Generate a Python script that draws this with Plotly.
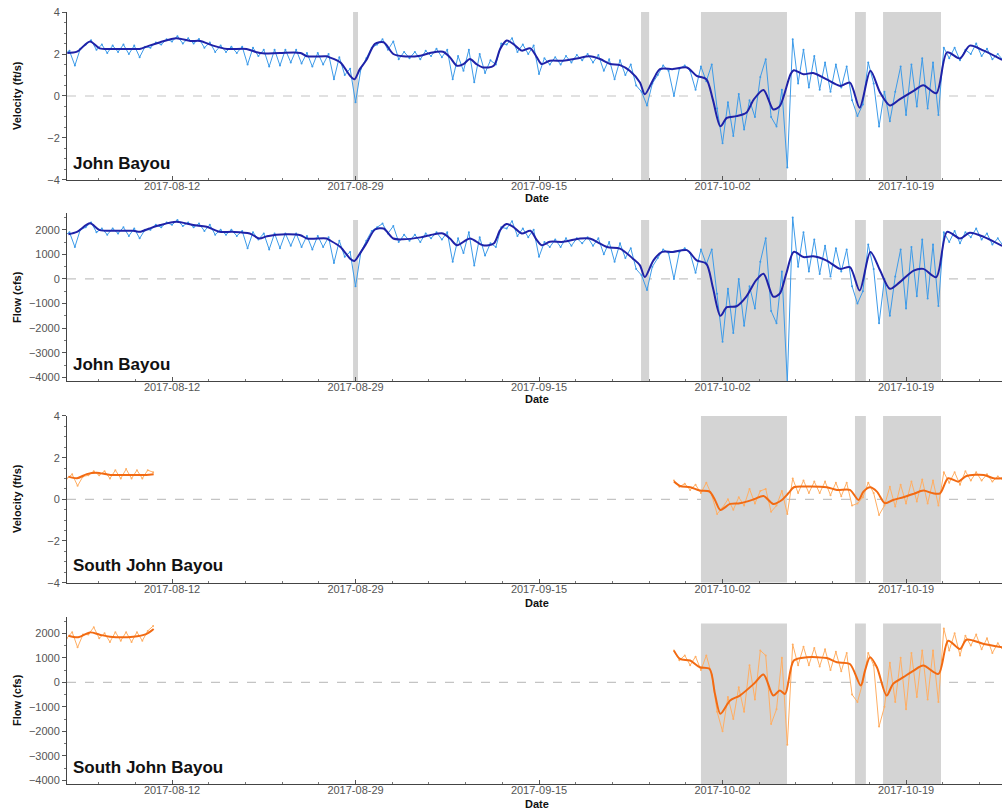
import pandas as pd
import plotly.graph_objects as go
from plotly.subplots import make_subplots

BASE = pd.Timestamp("2017-08-02 00:00")

# ---------------- John Bayou : raw (12-hourly, starting at BASE) ----------------
jb_vel_raw = [
    2.0, 2.15, 1.45, 2.25, 2.45, 2.65, 2.2, 2.45, 2.05, 2.4,
    2.1, 2.45, 2.0, 2.4, 1.85, 2.35, 2.3, 2.55, 2.45, 2.7,
    2.6, 2.85, 2.5, 2.75, 2.5, 2.72, 2.3, 2.55, 2.1, 2.4,
    2.1, 2.35, 2.05, 2.35, 1.5, 2.3, 1.9, 2.2, 1.4, 2.2,
    1.45, 2.2, 1.6, 2.2, 1.55, 2.05, 1.4, 2.05, 1.5, 2.0,
    0.8, 1.85, 1.0, 1.3, -0.3, 1.3, 1.8, 2.3, 2.45, 2.7,
    2.2, 2.6, 1.75, 2.1, 1.8, 2.1, 1.75, 2.15, 1.9, 2.25,
    1.85, 2.2, 0.8, 1.9, 1.2, 2.2, 0.65, 2.0, 1.1, 1.7,
    1.5, 2.5, 2.45, 2.75, 2.1, 2.45, 2.0, 2.4, 1.05, 1.8,
    1.5, 1.85, 1.5, 1.9, 1.6, 1.95, 1.7, 2.0, 1.6, 1.95,
    1.2, 1.75, 0.8, 1.7, 1.0, 1.5, 0.5, 0.2, -0.45, 0.6,
    1.0, 1.45, 1.2, 0.0, 1.3, 1.45, 1.2, 0.3, 1.4, 0.7,
    1.5, -0.6, -2.25, -0.3, -1.9, 0.1, -1.6, -0.2, -1.0, 0.9,
    1.75, -1.0, -1.45, 0.3, -3.4, 2.7, 0.6, 2.2, 0.4, 1.9,
    0.3, 1.6, 0.2, 1.5, 0.4, 1.4, -0.2, -0.95, -0.4, 1.6,
    0.6, -1.45, 0.2, -1.2, 0.2, 1.4, -0.9, 1.5, -0.5, 1.8,
    -0.6, 1.6, -0.9, 2.3, 1.8, 2.3, 1.7, 2.2, 2.0, 2.5,
    1.9, 2.25, 1.75, 2.0, 1.7,
]

jb_flow_raw = [
    1750, 1900, 1300, 2000, 2100, 2300, 1900, 2050, 1800, 2050,
    1850, 2100, 1750, 2050, 1650, 2000, 2000, 2200, 2100, 2300,
    2200, 2400, 2150, 2300, 2100, 2250, 1950, 2200, 1800, 2000,
    1800, 2000, 1750, 1950, 1250, 1900, 1600, 1850, 1200, 1850,
    1250, 1850, 1350, 1850, 1300, 1750, 1200, 1750, 1300, 1700,
    650, 1550, 900, 1100, -300, 1100, 1550, 1950, 2100, 2250,
    1850, 2150, 1500, 1800, 1550, 1800, 1500, 1850, 1650, 1900,
    1600, 1900, 700, 1650, 1050, 1900, 550, 1700, 950, 1450,
    1300, 2100, 2050, 2350, 1750, 2050, 1700, 2000, 900, 1500,
    1300, 1600, 1300, 1650, 1350, 1650, 1450, 1700, 1350, 1650,
    1000, 1500, 700, 1450, 850, 1250, 400, 150, -450, 500,
    850, 1200, 1050, 0, 1100, 1250, 1050, 250, 1200, 600,
    1200, -600, -2550, -400, -2200, 0, -1900, -300, -1200, 700,
    1650, -1300, -1800, 300, -4200, 2500, 500, 1900, 300, 1600,
    200, 1350, 100, 1250, 300, 1200, -300, -1000, -500, 1400,
    400, -1800, 0, -1500, 100, 1200, -1200, 1300, -700, 1600,
    -800, 1400, -1100, 1900, 1500, 1950, 1450, 1900, 1700, 2050,
    1600, 1850, 1400, 1650, 1350,
]

# ---------------- John Bayou : smoothed (day offset from BASE, value) ----------------
jb_vel_sm_days = [0.3, 1.2, 2.4, 3.3, 4.5, 6.4, 7.0, 7.9, 8.9, 10.4, 11.7, 12.6, 13.8, 15.1,
                  16.9, 17.85, 18.4, 20.0, 21.9, 22.5, 24.3, 24.6, 25.6, 26.5, 26.9, 27.4,
                  28.0, 28.8, 29.6, 30.5, 31.4, 33.0, 33.9, 35.1, 35.75, 36.4, 37.0, 37.6,
                  38.2, 38.8, 39.8, 40.4, 41.0, 41.6, 42.4, 43.2, 43.8, 44.25, 45.0, 46.25,
                  47.5, 48.7, 49.65, 50.6, 51.5, 52.4, 53.35, 53.8, 54.6, 55.2, 56.4, 57.7,
                  58.6, 59.5, 60.1, 60.8, 61.4, 62.3, 63.2, 63.9, 64.8, 65.7, 66.3, 67.3,
                  67.6, 68.5, 69.4, 70.6, 71.9, 72.8, 73.7, 74.7, 75.6, 76.5, 77.4, 78.7,
                  79.6, 80.8, 81.8, 83.0, 83.9, 85.2, 86.9]
jb_vel_sm = [2.05, 2.11, 2.6, 2.27, 2.24, 2.24, 2.24, 2.4, 2.56, 2.75, 2.62, 2.62, 2.4, 2.24,
             2.24, 2.08, 2.03, 2.05, 2.05, 1.89, 1.89, 1.84, 1.6, 0.96, 0.8, 1.28,
             1.71, 2.48, 2.56, 2.0, 1.89, 1.92, 2.05, 2.11, 1.84, 1.44, 1.52, 1.76,
             1.52, 1.36, 1.44, 2.24, 2.64, 2.48, 2.16, 2.27, 1.84, 1.52, 1.68, 1.68,
             1.79, 1.89, 1.76, 1.52, 1.47, 1.2, 0.64, 0.08, 0.8, 1.28, 1.28, 1.36,
             0.96, 0.8, -0.16, -1.44, -1.04, -0.96, -0.8, -0.16, 0.29, -0.64, -0.48, 1.04,
             1.23, 1.04, 1.09, 0.8, 0.48, 0.64, -0.56, 1.2, 0.16, -0.45, -0.16, 0.24,
             0.51, 0.13, 2.08, 1.79, 2.4, 2.16, 1.72]

jb_flow_sm_days = [0.4, 1.2, 2.4, 3.3, 5.0, 6.4, 7.0, 7.9, 8.9, 10.4, 11.96, 13.2, 14.4, 15.6,
                   17.2, 18.1, 18.8, 20.6, 21.9, 22.5, 24.3, 24.6, 25.6, 26.5, 26.9, 27.4,
                   28.0, 28.8, 29.6, 30.5, 31.4, 33.0, 33.9, 35.1, 35.75, 36.4, 37.6, 38.8,
                   39.8, 40.4, 41.0, 41.6, 42.4, 43.2, 43.8, 44.25, 45.0, 46.25, 47.8, 48.7,
                   50.3, 51.5, 52.7, 53.35, 53.8, 54.6, 55.4, 56.4, 57.7, 58.6, 59.5, 60.1,
                   60.8, 61.4, 62.3, 63.2, 64.1, 64.8, 65.7, 66.3, 66.9, 67.6, 68.5, 69.4,
                   70.6, 71.9, 72.8, 73.7, 74.7, 75.6, 76.5, 77.4, 78.7, 79.6, 80.8, 81.8,
                   83.0, 83.9, 85.2, 86.9]
jb_flow_sm = [1820, 1915, 2260, 1985, 1960, 1960, 1915, 2050, 2190, 2325, 2190, 2120, 1915, 1915,
              1850, 1645, 1740, 1820, 1780, 1645, 1645, 1575, 1300, 825, 730, 1030,
              1440, 2010, 2050, 1645, 1610, 1690, 1780, 1850, 1645, 1370, 1645, 1370,
              1440, 1985, 2230, 2120, 1850, 1960, 1575, 1370, 1510, 1510, 1645, 1645,
              1300, 1235, 825, 550, 75, 758, 1100, 1100, 1170, 758, 620, -335,
              -1495, -1150, -1110, -720, -60, 210, -720, -600, 210, 1100, 890, 920,
              758, 410, 480, -470, 1100, 340, -400, -140, 340, 410, 75, 1915,
              1645, 1875, 1710, 1340]

# ---------------- South John Bayou : raw (two segments, 12-hourly) ----------------
sjb_early_start = 0.25      # day offset of first early sample
sjb_late_start = 56.5       # day offset of first late sample

sjb_vel_raw_early = [1.0, 1.2, 0.65, 1.1, 1.15, 1.35, 1.15, 1.35, 1.0, 1.4,
                     1.0, 1.45, 1.0, 1.4, 1.0, 1.4, 1.3]
sjb_vel_raw_late = [0.9,
                    0.6, 0.75, 0.45, 0.7, 0.3, 0.8, 0.2, -0.7, -0.4, 0.0,
                    -0.5, 0.1, -0.3, 0.5, -0.2, 0.4, 0.5, -0.6, -0.3, 0.4,
                    -0.7, 1.0, 0.3, 0.9, 0.3, 0.85, 0.3, 0.85, 0.2, 0.8,
                    0.15, 0.8, -0.3, -0.2, 0.1, 0.8, 0.3, -0.75, -0.3, 0.6,
                    -0.35, 0.7, -0.2, 0.85, -0.1, 0.95, -0.2, 0.9, -0.3, 1.3,
                    0.8, 1.3, 0.7, 1.35, 0.9, 1.3, 0.9, 1.2, 0.85, 1.1, 0.9]

sjb_flow_raw_early = [1800, 2050, 1430, 1950, 1950, 2250, 1800, 2000, 1650, 2050,
                      1700, 2050, 1650, 2050, 1700, 2100, 2300]
sjb_flow_raw_late = [1300,
                     900, 1100, 700, 1050, 500, 1100, 300, -1200, -2000, -600,
                     -1500, -200, -1200, 700, -700, 1300, 1100, -1700, -1100, 1000,
                     -2550, 1550, 700, 1450, 700, 1400, 650, 1350, 500, 1250,
                     450, 1200, -500, -800, 0, 1200, 700, -1800, -1000, 800,
                     -800, 1000, -1100, 1200, -600, 1300, -700, 1300, -800, 2200,
                     1300, 2000, 1100, 1900, 1500, 1950, 1350, 1800, 1200, 1600, 1300]

# ---------------- South John Bayou : smoothed ----------------
sjb_vel_sm_days_early = [0.4, 1.2, 2.1, 3.0, 4.3, 6.4, 7.6, 8.3]
sjb_vel_sm_early = [1.09, 1.01, 1.21, 1.28, 1.17, 1.17, 1.17, 1.2]
sjb_vel_sm_days_late = [56.5, 57.06, 58.0, 58.9, 59.8, 60.3, 60.8, 61.7, 62.6, 63.9, 64.8, 65.7,
                        66.5, 67.1, 67.6, 68.8, 70.65, 71.6, 72.8, 73.6, 74.05, 74.67, 75.3,
                        76.05, 76.8, 77.75, 78.7, 79.6, 80.5, 81.15, 81.9, 82.85, 83.6, 85.2,
                        86.1, 86.9]
sjb_vel_sm_late = [0.85, 0.64, 0.58, 0.42, 0.37, -0.03, -0.51, -0.22, -0.19, 0.0, 0.16, -0.22,
                   -0.03, 0.29, 0.58, 0.61, 0.58, 0.45, 0.45, -0.03, 0.37, 0.58, 0.37,
                   -0.19, -0.03, 0.1, 0.26, 0.42, 0.29, 0.29, 1.01, 0.85, 1.12, 1.17,
                   1.01, 1.01]

sjb_flow_sm_days_early = [0.4, 1.3, 2.4, 3.3, 4.25, 6.4, 7.6, 8.3]
sjb_flow_sm_early = [1905, 1840, 2040, 1945, 1865, 1865, 1970, 2180]
sjb_flow_sm_days_late = [56.5, 57.06, 58.0, 58.9, 59.8, 60.3, 60.8, 61.7, 62.6, 63.9, 64.8, 65.7,
                         66.3, 66.8, 67.6, 68.8, 70.65, 71.6, 72.8, 73.8, 74.2, 74.67, 75.3,
                         76.2, 76.8, 77.75, 78.7, 79.6, 81.0, 81.9, 83.0, 83.6, 85.2, 86.9]
sjb_flow_sm_late = [1295, 955, 890, 615, 550, -470, -1285, -740, -540, -60, 320, -540,
                    -335, -470, 890, 1025, 990, 820, 750, -130, 480, 1025, 615,
                    -540, -60, 210, 480, 685, 345, 1700, 1365, 1740, 1570, 1430]

# ---------------- shaded periods (day offsets) ----------------
jb_shade_start = [26.77, 53.45, 59.0, 73.27, 75.87]
jb_shade_end = [27.23, 54.2, 66.97, 74.28, 81.24]
sjb_shade_start = [59.0, 73.27, 75.87]
sjb_shade_end = [66.97, 74.28, 81.24]

x_range_days = [0.27, 86.89]
tick_labels_start = "2017-08-12"


def to_dt(days):
    return [BASE + pd.Timedelta(days=d) for d in days]


def raw_times(start, n):
    return [BASE + pd.Timedelta(days=start + 0.5 * i) for i in range(n)]


RAW_BLUE = "#3d9be9"
SM_BLUE = "#1f22a8"
RAW_ORANGE = "#ffae63"
SM_ORANGE = "#f26a12"
FONT = "Liberation Sans, Arial, sans-serif"

fig = make_subplots(rows=4, cols=1, shared_xaxes=False, vertical_spacing=0.0)

domains = [(0.7824, 1.0), (0.522, 0.7396), (0.2608, 0.4767), (0.0, 0.2167)]
vel_range = [-4, 4]
flow_range = [-4150, 2680]


def add_raw(row, x, y, color):
    fig.add_trace(go.Scatter(x=x, y=y, mode="lines+markers",
                             line=dict(color=color, width=1),
                             marker=dict(color=color, size=2),
                             showlegend=False, hoverinfo="skip"), row=row, col=1)


def add_sm(row, x, y, color):
    fig.add_trace(go.Scatter(x=x, y=y, mode="lines",
                             line=dict(color=color, width=2, shape="spline", smoothing=0.8),
                             showlegend=False), row=row, col=1)


# Panel 1 : John Bayou velocity
add_raw(1, raw_times(0.0, len(jb_vel_raw)), jb_vel_raw, RAW_BLUE)
add_sm(1, to_dt(jb_vel_sm_days), jb_vel_sm, SM_BLUE)
# Panel 2 : John Bayou flow
add_raw(2, raw_times(0.0, len(jb_flow_raw)), jb_flow_raw, RAW_BLUE)
add_sm(2, to_dt(jb_flow_sm_days), jb_flow_sm, SM_BLUE)
# Panel 3 : South John Bayou velocity
add_raw(3, raw_times(sjb_early_start, len(sjb_vel_raw_early)), sjb_vel_raw_early, RAW_ORANGE)
add_raw(3, raw_times(sjb_late_start, len(sjb_vel_raw_late)), sjb_vel_raw_late, RAW_ORANGE)
add_sm(3, to_dt(sjb_vel_sm_days_early), sjb_vel_sm_early, SM_ORANGE)
add_sm(3, to_dt(sjb_vel_sm_days_late), sjb_vel_sm_late, SM_ORANGE)
# Panel 4 : South John Bayou flow
add_raw(4, raw_times(sjb_early_start, len(sjb_flow_raw_early)), sjb_flow_raw_early, RAW_ORANGE)
add_raw(4, raw_times(sjb_late_start, len(sjb_flow_raw_late)), sjb_flow_raw_late, RAW_ORANGE)
add_sm(4, to_dt(sjb_flow_sm_days_early), sjb_flow_sm_early, SM_ORANGE)
add_sm(4, to_dt(sjb_flow_sm_days_late), sjb_flow_sm_late, SM_ORANGE)

shapes = []
panels = [
    (1, jb_shade_start, jb_shade_end, vel_range[0], vel_range[1]),
    (2, jb_shade_start, jb_shade_end, flow_range[0], 2400),
    (3, sjb_shade_start, sjb_shade_end, vel_range[0], vel_range[1]),
    (4, sjb_shade_start, sjb_shade_end, flow_range[0], 2400),
]
for row, s_list, e_list, y0, y1 in panels:
    sfx = "" if row == 1 else str(row)
    for s, e in zip(s_list, e_list):
        shapes.append(dict(type="rect", xref="x" + sfx, yref="y" + sfx,
                           x0=BASE + pd.Timedelta(days=s), x1=BASE + pd.Timedelta(days=e),
                           y0=y0, y1=y1, fillcolor="#d4d4d4", line=dict(width=0),
                           layer="below"))
    shapes.append(dict(type="line", xref="x" + sfx + " domain", yref="y" + sfx,
                       x0=0, x1=1, y0=0, y1=0,
                       line=dict(color="#c4c4c4", width=1.2, dash="dash"), layer="below"))

xr = [BASE + pd.Timedelta(days=x_range_days[0]), BASE + pd.Timedelta(days=x_range_days[1])]
DAY = 86400000
for row in range(1, 5):
    d0, d1 = domains[row - 1]
    fig.update_xaxes(row=row, col=1, range=xr, type="date",
                     tick0=tick_labels_start, dtick=17 * DAY, tickformat="%Y-%m-%d",
                     ticks="inside", ticklen=4, tickcolor="#555", ticklabelstandoff=-4,
                     minor=dict(tick0=tick_labels_start, dtick=3.4 * DAY, ticks="inside",
                                ticklen=2, tickcolor="#777"),
                     showline=True, linecolor="#444", linewidth=1, showgrid=False,
                     zeroline=False, tickfont=dict(family=FONT, size=11, color="#555"))
    is_vel = row in (1, 3)
    fig.update_yaxes(row=row, col=1, domain=[d0, d1],
                     range=vel_range if is_vel else flow_range,
                     tickmode="array",
                     tickvals=[-4, -2, 0, 2, 4] if is_vel else [-4000, -3000, -2000, -1000, 0, 1000, 2000],
                     ticks="outside", ticklen=4, tickcolor="#555",
                     minor=dict(dtick=0.5 if is_vel else 500, ticks="outside", ticklen=2,
                                tickcolor="#777"),
                     showline=True, linecolor="#444", linewidth=1, showgrid=False,
                     zeroline=False, tickfont=dict(family=FONT, size=11, color="#555"))

annotations = []
PLOT_L, PLOT_W = 67, 935
BOT, PH = 28, 772


def px_to_paper_y(y):
    return (812 - BOT - y) / PH


ytitles = [("Velocity (ft/s)", 96), ("Flow (cfs)", 297), ("Velocity (ft/s)", 499), ("Flow (cfs)", 700)]
for txt, yc in ytitles:
    annotations.append(dict(text=txt, xref="paper", yref="paper",
                            x=(17 - PLOT_L) / PLOT_W, y=px_to_paper_y(yc), textangle=-90,
                            showarrow=False, xanchor="center", yanchor="middle",
                            font=dict(family=FONT, size=11, color="#111", weight="bold")))
for yc in [198, 399, 603, 804]:
    annotations.append(dict(text="Date", xref="paper", yref="paper",
                            x=(537 - PLOT_L) / PLOT_W, y=px_to_paper_y(yc),
                            showarrow=False, xanchor="center", yanchor="middle",
                            font=dict(family=FONT, size=11, color="#111", weight="bold")))
names = [("John Bayou", 1), ("John Bayou", 2), ("South John Bayou", 3), ("South John Bayou", 4)]
for txt, row in names:
    sfx = "" if row == 1 else str(row)
    annotations.append(dict(text=txt, xref="x" + sfx + " domain", yref="y" + sfx + " domain",
                            x=0.004, y=0.1, showarrow=False, xanchor="left", yanchor="middle",
                            font=dict(family=FONT, size=17, color="#111", weight="bold")))

fig.update_layout(width=1002, height=812,
                  margin=dict(l=67, r=0, t=12, b=28),
                  paper_bgcolor="white", plot_bgcolor="white",
                  shapes=shapes, annotations=annotations, showlegend=False,
                  font=dict(family=FONT))

fig.write_html("out.html")
